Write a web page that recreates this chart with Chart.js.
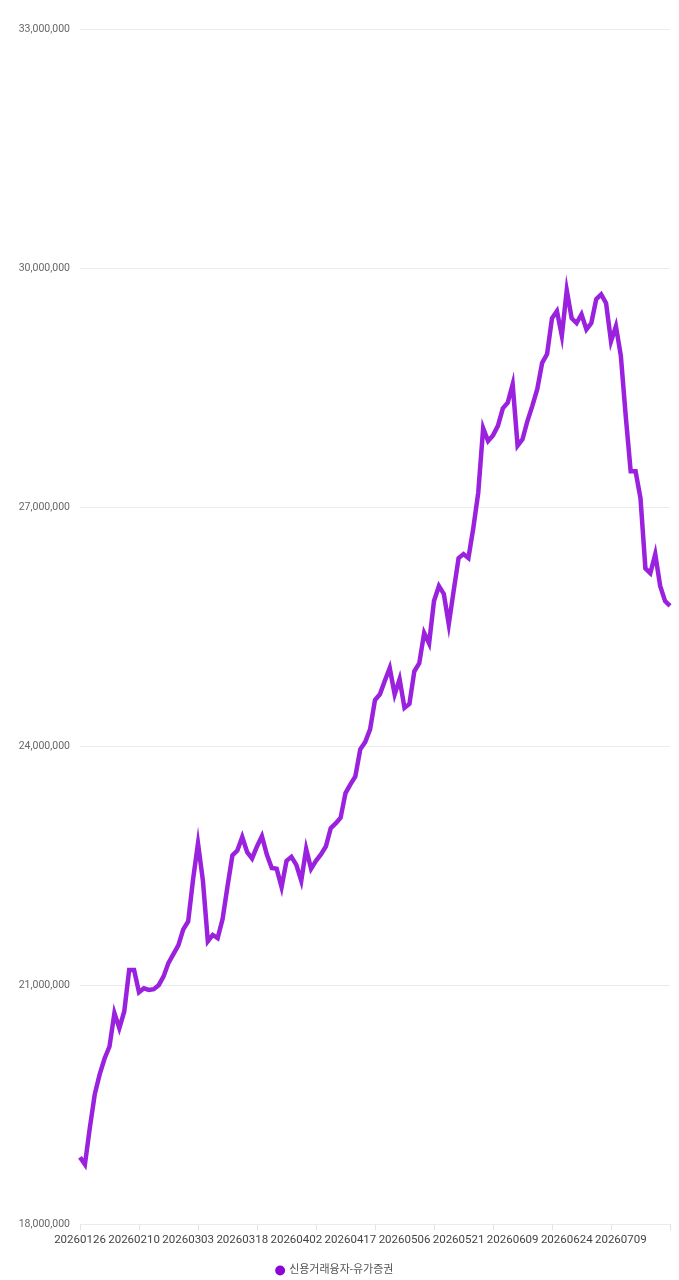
<!DOCTYPE html>
<html>
<head>
<meta charset="utf-8">
<script src="https://cdn.jsdelivr.net/npm/chart.js@4.4.1/dist/chart.umd.min.js"></script>
<style>
  html, body { margin: 0; padding: 0; background: #ffffff; }
  #wrap { width: 679px; height: 1280px; position: relative; }
</style>
</head>
<body>
<div id="wrap"><canvas id="c"></canvas></div>
<script>
const seriesName = '신용거래융자-유가증권';

const dates = [
  '20260126','20260127','20260128','20260129','20260130',
  '20260202','20260203','20260204','20260205','20260206',
  '20260209','20260210','20260211','20260212','20260213',
  '20260219','20260220','20260223','20260224','20260225','20260226','20260227',
  '20260303','20260304','20260305','20260306',
  '20260309','20260310','20260311','20260312','20260313',
  '20260316','20260317','20260318','20260319','20260320',
  '20260323','20260324','20260325','20260326','20260327',
  '20260330','20260331','20260401','20260402','20260403',
  '20260406','20260407','20260408','20260409','20260410',
  '20260413','20260414','20260415','20260416','20260417',
  '20260420','20260421','20260422','20260423','20260424',
  '20260427','20260428','20260429','20260430',
  '20260504','20260506','20260507','20260508',
  '20260511','20260512','20260513','20260514','20260515',
  '20260518','20260519','20260520','20260521','20260522',
  '20260526','20260527','20260528','20260529',
  '20260601','20260602','20260604','20260605',
  '20260608','20260609','20260610','20260611','20260612',
  '20260615','20260616','20260617','20260618','20260619',
  '20260622','20260623','20260624','20260625','20260626',
  '20260629','20260630','20260701','20260702','20260703',
  '20260706','20260707','20260708','20260709','20260710',
  '20260713','20260714','20260715','20260716','20260717',
  '20260720','20260721','20260722','20260723'
];

const values = [
  18840000, 18750000, 19210000, 19630000, 19880000, 20080000, 20230000, 20650000, 20460000, 20670000,
  21190000, 21190000, 20910000, 20960000, 20940000, 20950000, 21000000, 21110000, 21280000, 21390000,
  21500000, 21700000, 21800000, 22330000, 22780000, 22310000, 21550000, 21630000, 21590000, 21830000,
  22240000, 22630000, 22690000, 22860000, 22670000, 22590000, 22740000, 22870000, 22640000, 22470000,
  22460000, 22230000, 22560000, 22610000, 22510000, 22310000, 22710000, 22460000, 22560000, 22640000,
  22740000, 22970000, 23030000, 23100000, 23410000, 23520000, 23620000, 23960000, 24050000, 24210000,
  24580000, 24650000, 24820000, 24980000, 24650000, 24840000, 24480000, 24530000, 24940000, 25040000,
  25420000, 25290000, 25820000, 26010000, 25910000, 25530000, 25950000, 26360000, 26410000, 26360000,
  26740000, 27180000, 27990000, 27830000, 27900000, 28020000, 28240000, 28310000, 28540000, 27770000,
  27850000, 28080000, 28270000, 28480000, 28810000, 28920000, 29370000, 29460000, 29150000, 29720000,
  29370000, 29310000, 29420000, 29230000, 29310000, 29610000, 29670000, 29560000, 29080000, 29270000,
  28900000, 28140000, 27450000, 27450000, 27110000, 26230000, 26170000, 26410000, 26010000, 25820000,
  25760000
];

const yMin = 18000000;
const yMax = 33000000;
const yStep = 3000000;
const labelEvery = 11;   // which category labels are printed
const tickMarkEvery = 12; // which categories get a small tick mark

const lineColor = '#9a22de';
const dotColor = '#8a05d6';

Chart.defaults.font.family = "Roboto, 'Noto Sans CJK KR', 'Noto Sans', sans-serif";

new Chart(document.getElementById('c'), {
  type: 'line',
  data: {
    labels: dates,
    datasets: [{
      label: seriesName,
      data: values,
      borderColor: lineColor,
      backgroundColor: dotColor,
      borderWidth: 4.5,
      pointRadius: 0,
      pointHoverRadius: 0,
      tension: 0,
      fill: false
    }]
  },
  options: {
    responsive: true,
    maintainAspectRatio: false,
    animation: false,
    layout: { padding: { top: 29, right: 9, bottom: -6, left: 0 } },
    plugins: {
      tooltip: { enabled: false },
      legend: {
        display: true,
        position: 'bottom',
        labels: {
          usePointStyle: true,
          pointStyle: 'circle',
          boxWidth: 7,
          boxHeight: 7,
          padding: 15,
          color: '#555555',
          font: { size: 11 },
          generateLabels(chart) {
            const items = Chart.defaults.plugins.legend.labels.generateLabels(chart);
            items.forEach(it => { it.lineWidth = 0; it.fillStyle = dotColor; it.strokeStyle = dotColor; });
            return items;
          }
        }
      }
    },
    scales: {
      x: {
        type: 'category',
        border: { display: false },
        grid: {
          display: true,
          drawOnChartArea: false,
          drawTicks: true,
          tickLength: 6,
          color: (ctx) => (ctx.index % tickMarkEvery === 0 ? '#e3e3e3' : 'rgba(0,0,0,0)')
        },
        ticks: {
          autoSkip: false,
          maxRotation: 0,
          minRotation: 0,
          padding: 3,
          color: '#444444',
          font: { size: 11.5 },
          callback: function(value, index) {
            return index % labelEvery === 0 && index < dates.length - 1 ? dates[index] : '';
          }
        }
      },
      y: {
        min: yMin,
        max: yMax,
        border: { display: false },
        grid: { color: '#ebebeb', drawTicks: false, lineWidth: 1 },
        ticks: {
          stepSize: yStep,
          padding: 10,
          color: '#666666',
          font: { size: 10.5 },
          callback: (v) => Number(v).toLocaleString('en-US')
        },
        afterFit(scale) { scale.width = 80; }
      }
    }
  }
});
</script>
</body>
</html>
